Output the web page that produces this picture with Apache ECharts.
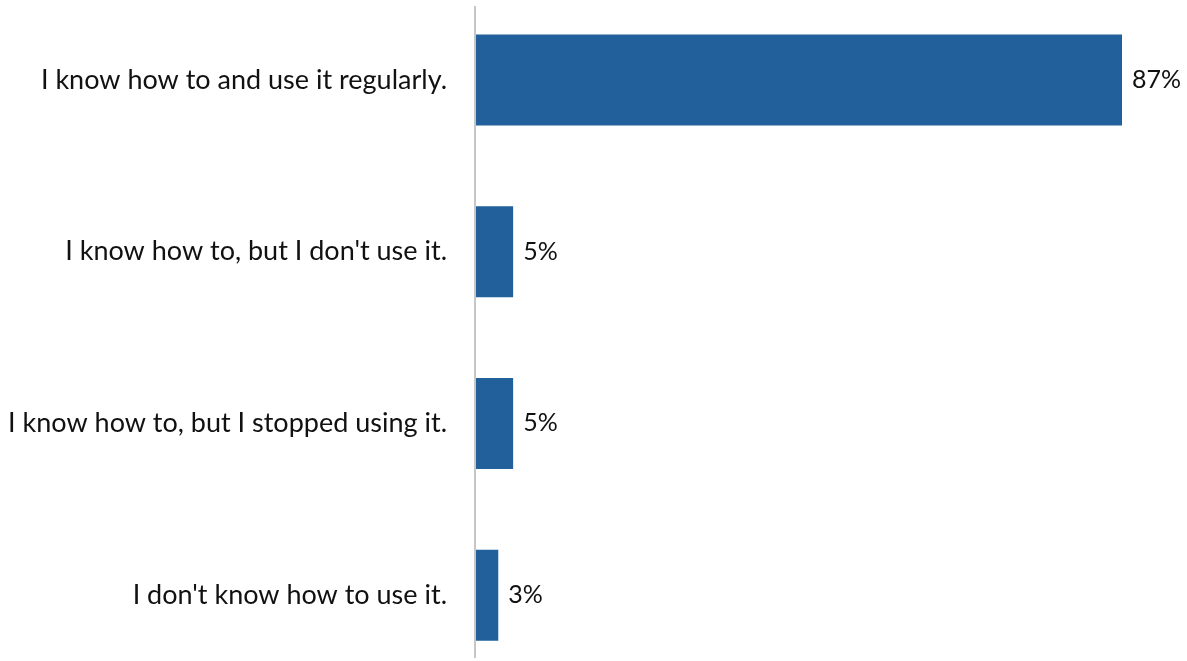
<!DOCTYPE html>
<html>
<head>
<meta charset="utf-8">
<script src="https://cdn.jsdelivr.net/npm/echarts@6/dist/echarts.min.js"></script>
<style>
  html, body { margin: 0; padding: 0; background: #fff; }
  #chart { width: 1187px; height: 661px; }
</style>
</head>
<body>
<div id="chart"></div>
<script>
// Survey answers, top to bottom
const categories = [
  "I know how to and use it regularly.",
  "I know how to, but I don't use it.",
  "I know how to, but I stopped using it.",
  "I don't know how to use it."
];
// Share of respondents, percent
const values = [87, 5, 5, 3];

const chart = echarts.init(document.getElementById('chart'));
chart.setOption({
  animation: false,
  grid: {
    left: 476, top: -6, width: 646, height: 687,
    containLabel: false, outerBoundsMode: 'none'
  },
  xAxis: {
    type: 'value', min: 0, max: 87,
    show: false
  },
  yAxis: {
    type: 'category',
    data: categories,
    inverse: true,
    axisLine: { show: false },
    axisTick: { show: false },
    axisLabel: {
      margin: 29,
      fontFamily: 'Lato',
      fontSize: 27,
      color: '#111'
    }
  },
  series: [{
    type: 'bar',
    data: values,
    barWidth: 91,
    itemStyle: { color: '#21609b' },
    label: {
      show: true,
      position: 'right',
      distance: 10,
      formatter: '{c}%',
      fontFamily: 'Lato',
      fontSize: 25,
      color: '#111'
    }
  }],
  graphic: [{
    type: 'line',
    shape: { x1: 475, y1: 6, x2: 475, y2: 658 },
    style: { stroke: '#c6c6c6', lineWidth: 2 },
    z: 10
  }]
});
</script>
</body>
</html>
